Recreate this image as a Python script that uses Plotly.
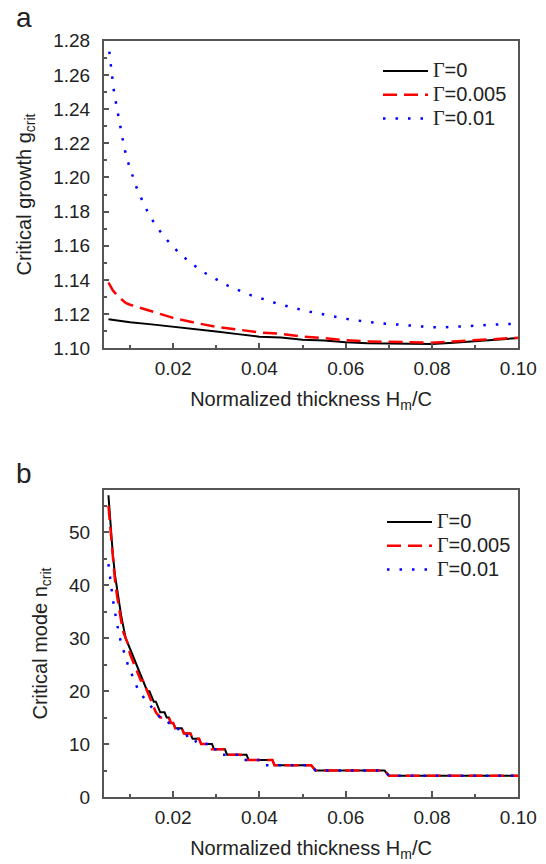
import plotly.graph_objects as go

# ---------------- Panel a: critical growth g_crit ----------------
xa_g0 = [0.005, 0.008, 0.010, 0.015, 0.020, 0.025, 0.030, 0.035, 0.040, 0.045, 0.050,
         0.055, 0.060, 0.065, 0.070, 0.075, 0.080, 0.085, 0.090, 0.095, 0.100]
ga_g0 = [1.1170, 1.1158, 1.1153, 1.1140, 1.1127, 1.1113, 1.1098, 1.1083, 1.1068, 1.1063, 1.1050,
         1.1045, 1.1035, 1.1030, 1.1027, 1.1025, 1.1025, 1.1033, 1.1043, 1.1052, 1.1060]

xa_g005 = [0.005, 0.006, 0.007, 0.008, 0.009, 0.010, 0.012, 0.015, 0.020, 0.025, 0.030, 0.035,
           0.040, 0.045, 0.050, 0.055, 0.060, 0.065, 0.070, 0.075, 0.080, 0.085, 0.090, 0.095, 0.100]
ga_g005 = [1.1385, 1.1340, 1.1310, 1.1285, 1.1265, 1.1255, 1.1240, 1.1215, 1.1178, 1.1150, 1.1125, 1.1110,
           1.1092, 1.1085, 1.1068, 1.1060, 1.1047, 1.1040, 1.1038, 1.1036, 1.1033, 1.1040, 1.1048, 1.1055, 1.1062]

xa_g01 = [0.0052, 0.0055, 0.0059, 0.0062, 0.0067, 0.0072, 0.0077, 0.0083, 0.0089, 0.0097, 0.0107,
          0.0117, 0.0130, 0.0144, 0.0162, 0.0185, 0.0212, 0.0241, 0.0270, 0.0299, 0.0327, 0.0356,
          0.0385, 0.0416, 0.0444, 0.0475, 0.0505, 0.0535, 0.0565, 0.0594, 0.0618, 0.0646, 0.0678,
          0.0706, 0.0735, 0.0767, 0.0799, 0.0827, 0.0856, 0.0888, 0.0916, 0.0944, 0.0973, 0.1000]
ga_g01 = [1.2736, 1.2664, 1.2589, 1.2517, 1.2443, 1.2369, 1.2295, 1.2223, 1.2149, 1.2076, 1.2002,
          1.1928, 1.1856, 1.1782, 1.1710, 1.1636, 1.1562, 1.1499, 1.1446, 1.1405, 1.1366, 1.1335,
          1.1306, 1.1283, 1.1259, 1.1240, 1.1220, 1.1205, 1.1189, 1.1175, 1.1166, 1.1156, 1.1146,
          1.1142, 1.1136, 1.1127, 1.1123, 1.1123, 1.1127, 1.1133, 1.1136, 1.1140, 1.1142, 1.1142]

# ---------------- Panel b: critical mode n_crit ----------------
xb_g0 = [0.005, 0.0055, 0.006, 0.0065, 0.007, 0.0075, 0.008, 0.0085, 0.009, 0.0095, 0.010,
         0.0105, 0.011, 0.0115, 0.012, 0.0125, 0.013, 0.0135, 0.014, 0.0145, 0.015, 0.0155,
         0.016, 0.0165, 0.017, 0.018, 0.0185, 0.019, 0.0195, 0.020, 0.0205, 0.021, 0.022,
         0.0225, 0.023, 0.024, 0.0245, 0.025, 0.026, 0.0265, 0.027, 0.029, 0.0295, 0.030,
         0.032, 0.0325, 0.037, 0.0375, 0.043, 0.0435, 0.052, 0.053, 0.069, 0.070, 0.100]
nb_g0 = [57, 51, 46, 42, 39, 36, 34, 32, 30, 29, 28,
         27, 26, 25, 24, 23, 22, 21, 20, 20, 19, 18,
         18, 17, 16, 16, 15, 15, 14, 14, 13, 13, 13,
         12, 12, 12, 11, 11, 11, 10, 10, 10, 9, 9,
         9, 8, 8, 7, 7, 6, 6, 5, 5, 4, 4]

xb_g005 = [0.005, 0.0055, 0.006, 0.0065, 0.007, 0.0075, 0.008, 0.0085, 0.009, 0.0095, 0.010,
           0.0105, 0.011, 0.0115, 0.012, 0.0125, 0.013, 0.0135, 0.014, 0.0145, 0.015, 0.0155,
           0.016, 0.017, 0.019, 0.0195, 0.020, 0.0205, 0.022, 0.0225, 0.024, 0.0245, 0.026,
           0.0265, 0.0285, 0.029, 0.032, 0.0325, 0.0357, 0.0365, 0.043, 0.0435, 0.052, 0.053,
           0.069, 0.070, 0.100]
nb_g005 = [55, 50, 45, 41, 38, 35, 33, 31, 30, 29, 27,
           26, 25, 24, 23, 22, 22, 21, 20, 19, 18, 17,
           16, 15, 15, 14, 14, 13, 13, 12, 12, 11, 11,
           10, 10, 9, 9, 8, 8, 7, 7, 6, 6, 5,
           5, 4, 4]

xb_g01 = [0.005, 0.0055, 0.006, 0.0065, 0.007, 0.0075, 0.008, 0.0085, 0.009, 0.0095, 0.010,
          0.011, 0.012, 0.013, 0.014, 0.015, 0.016, 0.017, 0.018, 0.019, 0.020, 0.021, 0.022,
          0.023, 0.0235, 0.025, 0.0255, 0.028, 0.0285, 0.031, 0.0315, 0.036, 0.0365, 0.041,
          0.0415, 0.052, 0.053, 0.069, 0.070, 0.100]
nb_g01 = [44, 40.5, 37.5, 35, 32.5, 30.5, 29, 27.5, 26, 25, 24,
          22, 20, 19, 18, 17, 16, 15, 15, 14, 14, 13, 12,
          12, 11, 11, 10, 10, 9, 9, 8, 8, 7, 7,
          6, 6, 5, 5, 4, 4]

names = ["Γ=0", "Γ=0.005", "Γ=0.01"]
colors = ["#000000", "#ff0000", "#0000ff"]
lines = [dict(color=colors[0], width=2),
         dict(color=colors[1], width=2.5, dash="14px,7px"),
         dict(color=colors[2], width=2.5, dash="2.5px,10px")]


def leg(name):
    return ('<span style="font-family:Liberation Serif;font-size:20px">' + name[0] + '</span>'
            + '<span style="font-size:20px">' + name[1:] + '</span>')


fig = go.Figure()
for xs, ys, nm, ln in zip([xa_g0, xa_g005, xa_g01], [ga_g0, ga_g005, ga_g01], names, lines):
    fig.add_trace(go.Scatter(x=xs, y=ys, mode="lines", line=ln, name=leg(nm),
                             xaxis="x", yaxis="y", legend="legend"))
for xs, ys, nm, ln in zip([xb_g0, xb_g005, xb_g01], [nb_g0, nb_g005, nb_g01], names, lines):
    fig.add_trace(go.Scatter(x=xs, y=ys, mode="lines", line=ln, name=leg(nm),
                             xaxis="x2", yaxis="y2", legend="legend2"))

FONT = "Liberation Sans, Arial, sans-serif"
axcol = "#555555"
xdom = [103.7 / 546, 518.3 / 546]
ydom_a = [1 - 348.3 / 864, 1 - 40.7 / 864]
ydom_b = [1 - 797 / 864, 1 - 490 / 864]

common = dict(showline=True, linecolor=axcol, linewidth=1.5, mirror=True,
              ticks="inside", ticklen=6, tickwidth=1.5, tickcolor=axcol,
              showgrid=False, zeroline=False, automargin=False,
              tickfont=dict(family=FONT, size=19, color="#222222"))

xtitle = dict(text="Normalized thickness H<sub>m</sub>/C",
              font=dict(family=FONT, size=20, color="#222222"), standoff=14)

fig.update_layout(
    width=546, height=864, margin=dict(l=0, r=0, t=0, b=0, autoexpand=False),
    paper_bgcolor="white", plot_bgcolor="white",
    font=dict(family=FONT, color="#222222"),
    xaxis=dict(domain=xdom, anchor="y", range=[0.0039, 0.1], tick0=0, dtick=0.02,
               tickformat=".2f", ticklabelstandoff=2,
               minor=dict(dtick=0.01, tick0=0, ticks="inside", ticklen=3.5, tickwidth=1.5, tickcolor=axcol),
               title=xtitle, **common),
    yaxis=dict(domain=ydom_a, anchor="x", range=[1.10, 1.28], tick0=1.10, dtick=0.02,
               tickformat=".2f", ticklabelstandoff=8,
               minor=dict(dtick=0.01, tick0=1.10, ticks="inside", ticklen=3.5, tickwidth=1.5, tickcolor=axcol),
               title=dict(text="Critical growth g<sub>crit</sub>",
                          font=dict(family=FONT, size=20, color="#222222"), standoff=16),
               **common),
    xaxis2=dict(domain=xdom, anchor="y2", range=[0.0039, 0.1], tick0=0, dtick=0.02,
                tickformat=".2f", ticklabelstandoff=2,
                minor=dict(dtick=0.01, tick0=0, ticks="inside", ticklen=3.5, tickwidth=1.5, tickcolor=axcol),
                title=xtitle, **common),
    yaxis2=dict(domain=ydom_b, anchor="x2", range=[0, 58], tick0=0, dtick=10,
                ticklabelstandoff=8,
                minor=dict(dtick=5, tick0=0, ticks="inside", ticklen=3.5, tickwidth=1.5, tickcolor=axcol),
                title=dict(text="Critical mode n<sub>crit</sub>",
                           font=dict(family=FONT, size=20, color="#222222"), standoff=16),
                **common),
    legend=dict(x=378 / 546, y=1 - 54 / 864, xanchor="left", yanchor="top",
                bgcolor="rgba(0,0,0,0)", font=dict(family=FONT, size=16, color="#222222"),
                itemwidth=45),
    legend2=dict(x=382 / 546, y=1 - 505 / 864, xanchor="left", yanchor="top",
                 bgcolor="rgba(0,0,0,0)", font=dict(family=FONT, size=16, color="#222222"),
                 itemwidth=45),
    annotations=[
        dict(text="a", x=14 / 546, y=1 - 0 / 864, xref="paper", yref="paper",
             xanchor="left", yanchor="top", showarrow=False,
             font=dict(family=FONT, size=28, color="#222222")),
        dict(text="b", x=14 / 546, y=1 - 456 / 864, xref="paper", yref="paper",
             xanchor="left", yanchor="top", showarrow=False,
             font=dict(family=FONT, size=28, color="#222222")),
    ],
)

fig.write_html("out.html", config={"displayModeBar": False},
               post_script="document.body.style.margin='0';document.body.style.padding='0';")
